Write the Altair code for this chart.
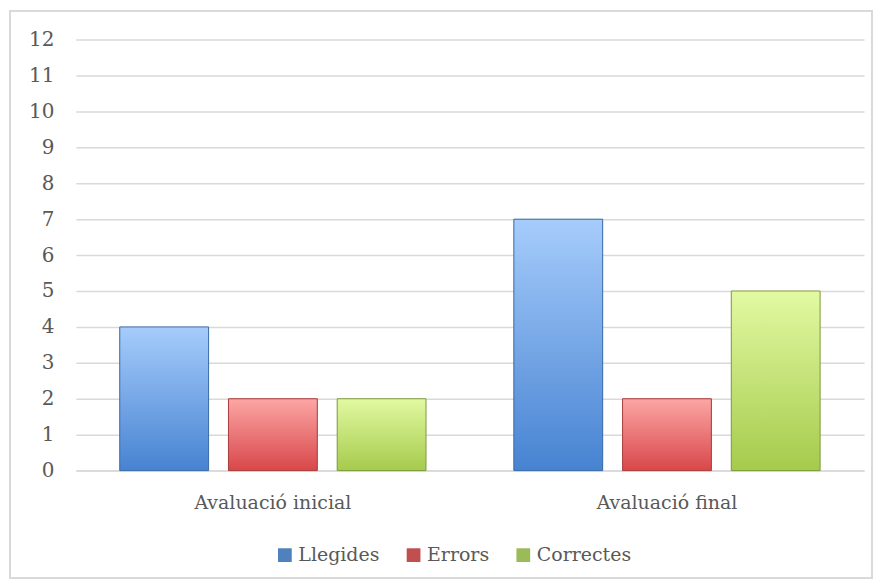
import altair as alt
import pandas as pd

categories = ["Avaluació inicial", "Avaluació final"]
series = ["Llegides", "Errors", "Correctes"]
llegides = [4, 7]
errors = [2, 2]
correctes = [2, 5]

legend_colors = ["#4F81BD", "#C0504D", "#9BBB59"]
grad_top = ["#A6CCFB", "#FCA6A5", "#E2F9A2"]
grad_bottom = ["#4783D2", "#D8474A", "#A5CB4C"]
strokes = ["#3C6CA8", "#A83F3D", "#7E9C40"]

rows = []
for name, vals in zip(series, [llegides, errors, correctes]):
    for c, v in zip(categories, vals):
        rows.append({"Avaluació": c, "Sèrie": name, "Valor": v})
df = pd.DataFrame(rows)

FONT = "DejaVu Serif"
TXT = "#595959"

x_enc = alt.X("Avaluació:N", sort=categories,
              scale=alt.Scale(paddingInner=0, paddingOuter=0),
              axis=alt.Axis(title=None, labelAngle=0, ticks=False, labelPadding=23,
                            domainColor="#D9D9D9", domainWidth=1.5,
                            labelFont=FONT, labelFontSize=19, labelColor=TXT))
xo_enc = alt.XOffset("Sèrie:N", sort=series,
                     scale=alt.Scale(domain=series, paddingInner=0.183, paddingOuter=0.404))
y_enc = alt.Y("Valor:Q", scale=alt.Scale(domain=[0, 12], nice=False),
              axis=alt.Axis(title=None, values=list(range(13)), ticks=False, domain=False,
                            grid=True, gridColor="#D9D9D9", gridWidth=1.5,
                            labelPadding=22, labelFont=FONT, labelFontSize=20, labelColor=TXT))

base = alt.Chart(df).encode(x=x_enc, xOffset=xo_enc, y=y_enc)

frame = alt.Chart(df).mark_rect(fillOpacity=0, stroke="#D9D9D9", strokeWidth=1.5).encode(
    x=alt.value(-66), x2=alt.value(798), y=alt.value(-29), y2=alt.value(540)
)

legend_layer = base.mark_bar().encode(
    color=alt.Color("Sèrie:N", sort=series,
                    scale=alt.Scale(domain=series, range=legend_colors),
                    legend=alt.Legend(title=None, orient="none", direction="horizontal",
                                      legendX=200, legendY=507,
                                      symbolType="square", symbolSize=190,
                                      labelFont=FONT, labelFontSize=19, labelColor=TXT,
                                      columnPadding=24, labelOffset=4))
)

layers = [frame, legend_layer]
for s, t, b, st in zip(series, grad_top, grad_bottom, strokes):
    grad = alt.Gradient(gradient="linear",
                        stops=[alt.GradientStop(color=t, offset=0),
                               alt.GradientStop(color=b, offset=1)],
                        x1=0, x2=0, y1=0, y2=1)
    layers.append(
        base.transform_filter(alt.datum["Sèrie"] == s)
        .mark_bar(fill=grad, stroke=st, strokeWidth=1)
    )

chart = alt.layer(*layers).properties(
    width=790, height=432, padding={"left": 1, "top": 1, "right": 1, "bottom": 1}
).configure_view(stroke=None)

chart.save("out.html", embed_options={"renderer": "svg", "actions": False})
